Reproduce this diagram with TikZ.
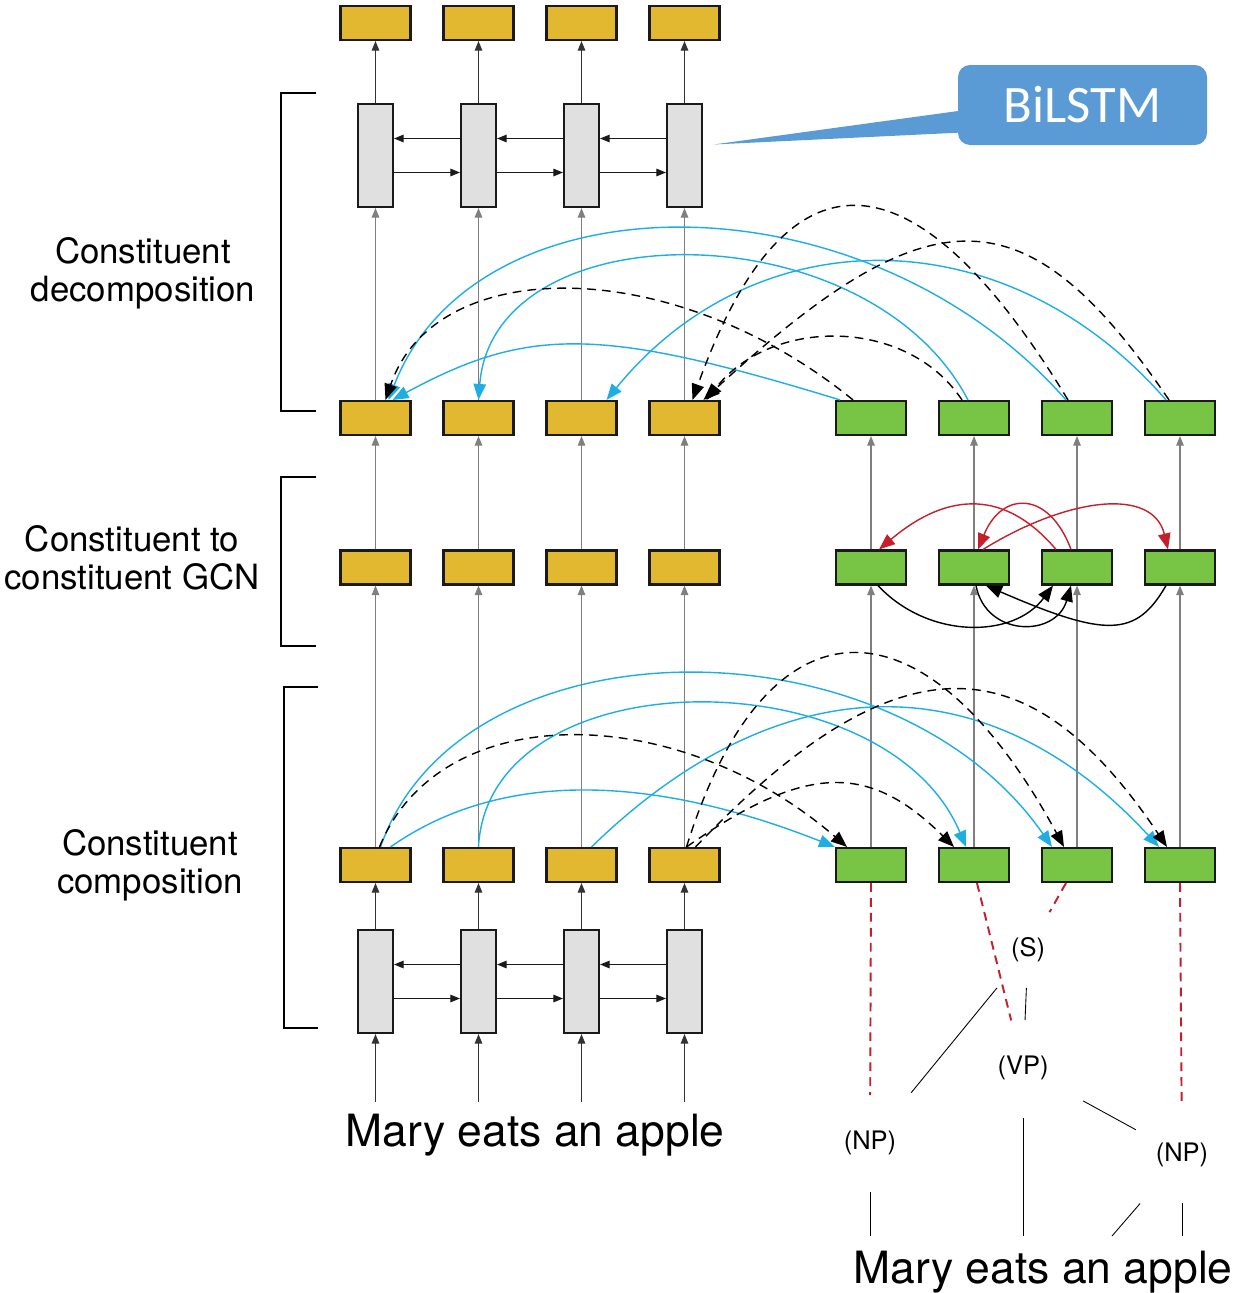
\documentclass[tikz,border=0pt]{standalone}
\usepackage{fontspec}
\setmainfont{TeX Gyre Heros}
\newfontfamily\calib{Carlito}
\usetikzlibrary{arrows.meta,positioning,calc}
\definecolor{ink}{HTML}{1A1A1A}
\definecolor{gold}{HTML}{E2B831}
\definecolor{leaf}{HTML}{78C445}
\definecolor{cellgr}{HTML}{E0E0E0}
\definecolor{sky}{HTML}{1EAEE4}
\definecolor{crim}{HTML}{C51F2B}
\definecolor{flow}{HTML}{7F7F7F}
\definecolor{callout}{HTML}{5B9BD5}
\tikzset{
  tok/.style={draw=ink,line width=1.2pt,minimum width=1.4cm,minimum height=0.68cm,inner sep=0pt},
  lstm/.style={draw=ink,line width=1.2pt,fill=cellgr,minimum width=0.7cm,minimum height=2.06cm,inner sep=0pt},
  upgray/.style={-{Triangle[length=1.9mm,width=1.5mm]},flow,line width=0.6pt},
  updark/.style={-{Triangle[length=1.9mm,width=1.5mm]},black!80,line width=0.6pt},
  rnn/.style={-{Triangle[length=1.9mm,width=1.5mm]},ink,line width=0.6pt},
  bl/.style={-{Triangle[length=3.2mm,width=2.5mm]},sky,line width=0.8pt},
  sp/.style={-{Triangle[length=3.2mm,width=2.5mm]},black,line width=0.8pt,dash pattern=on 5pt off 3.5pt},
  tre/.style={-{Triangle[length=3.2mm,width=2.5mm]},crim,line width=0.8pt},
  rise/.style={-{Triangle[length=3.2mm,width=2.5mm]},black,line width=0.8pt},
  treeln/.style={black,line width=0.5pt},
  link/.style={crim,line width=1.1pt,dash pattern=on 5pt off 3.5pt},
  brk/.style={black,line width=0.9pt},
  stage/.style={align=center,font=\fontsize{19.8}{21.5}\selectfont},
  sent/.style={font=\fontsize{25.3}{30}\selectfont,inner sep=0pt},
  cat/.style={font=\fontsize{14.5}{16}\selectfont,inner sep=0pt},
  bubble/.style={fill=callout,rounded corners=0.24cm,minimum width=4.98cm,minimum height=1.6cm,
                 text=white,font=\calib\fontsize{30}{34}\selectfont}
}
\newcommand{\branch}[5][treeln]{\draw[#1,shorten <=#4,shorten >=#5] #2 -- #3;}

\begin{document}
\begin{tikzpicture}
  \useasboundingbox (0,0) rectangle (24.74,-25.86);

  % word columns
  \foreach \i/\x in {1/7.51,2/9.57,3/11.63,4/13.69}{
    \node[tok,fill=gold] (top\i) at (\x,-0.46) {};
    \node[lstm] (lt\i) at (\x,-3.11) {};
    \node[tok,fill=gold] (dy\i) at (\x,-8.36) {};
    \node[tok,fill=gold] (gy\i) at (\x,-11.35) {};
    \node[tok,fill=gold] (cy\i) at (\x,-17.30) {};
    \node[lstm] (lb\i) at (\x,-19.63) {};
    \coordinate (in\i) at (\x,-22.04);}
  % constituent columns
  \foreach \i/\x in {1/17.42,2/19.48,3/21.54,4/23.60}{
    \node[tok,fill=leaf] (dg\i) at (\x,-8.36) {};
    \node[tok,fill=leaf] (gg\i) at (\x,-11.35) {};
    \node[tok,fill=leaf] (cg\i) at (\x,-17.30) {};}

  \foreach \i in {1,...,4}{
    \draw[updark] (lt\i) -- (top\i);
    \draw[upgray] (dy\i) -- (lt\i);
    \draw[upgray] (gy\i) -- (dy\i);
    \draw[upgray] (cy\i) -- (gy\i);
    \draw[updark] (lb\i) -- (cy\i);
    \draw[updark] (in\i) -- (lb\i);
    \draw[upgray] (gg\i) -- (dg\i);
    \draw[upgray] (cg\i) -- (gg\i);}
  \foreach \i/\j in {1/2,2/3,3/4}{
    \draw[rnn] ([yshift=-0.34cm]lt\i.east) -- ([yshift=-0.34cm]lt\j.west);
    \draw[rnn] ([yshift=0.34cm]lt\j.west) -- ([yshift=0.34cm]lt\i.east);
    \draw[rnn] ([yshift=-0.34cm]lb\i.east) -- ([yshift=-0.34cm]lb\j.west);
    \draw[rnn] ([yshift=0.34cm]lb\j.west) -- ([yshift=0.34cm]lb\i.east);}

  % stages
  \draw[brk] (6.32,-1.86) -- (5.62,-1.86) -- (5.62,-8.22) -- (6.32,-8.22);
  \draw[brk] (6.32,-9.54) -- (5.62,-9.54) -- (5.62,-12.92) -- (6.32,-12.92);
  \draw[brk] (6.36,-13.74) -- (5.68,-13.74) -- (5.68,-20.56) -- (6.36,-20.56);
  \node[stage] (decomp) at (2.86,-5.46) {Constituent\\decomposition};
  \node[stage] (c2c) at (2.64,-11.16) {Constituent to\\constituent GCN};
  \node[stage] (comp) at (3.0,-17.30) {Constituent\\composition};

  % callout
  \node[bubble] (bil) at (21.65,-2.10) {BiLSTM};
  \coordinate (tip) at ([xshift=0.21cm,yshift=0.22cm]lt4.east);
  \fill[callout] ([xshift=0.3cm,yshift=-0.08cm]bil.west) -- (tip)
    -- ([xshift=0.3cm,yshift=-0.54cm]bil.west) -- cycle;

  % decomposition: constituents back to words
  \draw[bl] ([xshift=-0.62cm]dg1.north) .. controls +(-4.8,1.47) and +(2.72,1.47) .. ([xshift=0.34cm]dy1.north);
  \draw[bl] ([xshift=-0.12cm]dg2.north) .. controls +(-2.0,3.82) and +(0.3,3.82) .. (dy2.north);
  \draw[bl] ([xshift=-0.22cm]dg3.north) .. controls +(-4.0,4.56) and +(1.76,4.56) .. ([xshift=0.26cm]dy1.north);
  \draw[bl] ([xshift=-0.28cm]dg4.north) .. controls +(-3.2,3.68) and +(3.0,3.68) .. ([xshift=0.5cm]dy3.north);
  \draw[sp] ([xshift=-0.36cm]dg1.north) .. controls +(-3.6,2.93) and +(1.0,2.93) .. ([xshift=0.2cm]dy1.north);
  \draw[sp] ([xshift=-0.24cm]dg2.north) .. controls +(-1.1,1.66) and +(1.3,1.66) .. ([xshift=0.44cm]dy4.north);
  \draw[sp] ([xshift=-0.18cm]dg3.north) .. controls +(-3.12,5.14) and +(1.84,5.14) .. ([xshift=0.16cm]dy4.north);
  \draw[sp] ([xshift=-0.22cm]dg4.north) .. controls +(-2.86,4.2) and +(4.56,4.2) .. ([xshift=0.38cm]dy4.north);

  % constituent to constituent
  \draw[tre] ([xshift=-0.42cm]gg3.north) .. controls +(-1.0,1.18) and +(1.4,1.18) .. ([xshift=0.16cm]gg1.north);
  \draw[tre] ([xshift=-0.12cm]gg3.north) .. controls +(-0.44,1.18) and +(0.48,1.18) .. ([xshift=0.08cm]gg2.north);
  \draw[tre] ([xshift=0.18cm]gg2.north) .. controls +(1.7,1.05) and +(-0.3,1.25) .. ([xshift=-0.24cm]gg4.north);
  \draw[rise] ([xshift=0.14cm]gg1.south) .. controls +(1.0,-1.07) and +(-0.8,-1.07) .. ([xshift=-0.48cm]gg3.south);
  \draw[rise] ([xshift=0.04cm]gg2.south) .. controls +(0.2,-1.04) and +(-0.3,-1.04) .. ([xshift=-0.12cm]gg3.south);
  \draw[rise] ([xshift=-0.28cm]gg4.south) .. controls +(-0.6,-1.04) and +(2.4,-1.04) .. ([xshift=0.24cm]gg2.south);

  % composition: words to constituents
  \draw[bl] ([xshift=0.3cm]cy1.north) .. controls +(2.14,1.5) and +(-3.8,1.5) .. (cg1.north west);
  \draw[bl] ([xshift=0.1cm]cy1.north) .. controls +(1.6,4.62) and +(-3.2,4.62) .. ([xshift=-0.5cm]cg3.north);
  \draw[bl] (cy2.north) .. controls +(0.2,3.82) and +(-1.6,3.82) .. ([xshift=-0.16cm]cg2.north);
  \draw[bl] ([xshift=0.2cm]cy3.north) .. controls +(3.8,3.7) and +(-3.4,3.7) .. ([xshift=-0.42cm]cg4.north);
  \draw[sp] ([xshift=0.08cm]cy1.north) .. controls +(1.2,2.96) and +(-3.44,2.96) .. ([xshift=-0.48cm]cg1.north);
  \draw[sp] ([xshift=0.04cm]cy4.north) .. controls +(2.4,1.68) and +(-1.7,1.68) .. ([xshift=-0.4cm]cg2.north);
  \draw[sp] ([xshift=0.04cm]cy4.north) .. controls +(1.6,5.14) and +(-2.78,5.14) .. ([xshift=-0.26cm]cg3.north);
  \draw[sp] ([xshift=0.22cm]cy4.north) .. controls +(4.0,4.18) and +(-2.8,4.18) .. ([xshift=-0.26cm]cg4.north);

  % sentences
  \node[sent,anchor=base] (sentL) at (10.70,-22.92) {Mary eats an apple};
  \node[sent,anchor=base] (sentR) at (20.86,-25.66) {Mary eats an apple};

  % parse tree
  \node[cat] (s) at (20.56,-19.0) {(S)};
  \node[cat] (vp) at (20.46,-21.36) {(VP)};
  \node[cat] (np1) at (17.40,-22.86) {(NP)};
  \node[cat] (np2) at (23.64,-23.10) {(NP)};
  \coordinate (w1) at (17.40,-24.72);
  \coordinate (w2) at (20.46,-24.72);
  \coordinate (w3) at (22.24,-24.72);
  \coordinate (w4) at (23.64,-24.72);
  \branch{(s.center)}{(vp.center)}{0.76cm}{0.96cm}
  \branch{(s.center)}{(np1.center)}{0.98cm}{1.30cm}
  \branch{(vp.center)}{(np2.center)}{1.37cm}{1.05cm}
  \branch{(vp.center)}{(w2)}{1.0cm}{0pt}
  \branch{(np1.center)}{(w1)}{0.98cm}{0pt}
  \branch{(np2.center)}{(w3)}{1.28cm}{0pt}
  \branch{(np2.center)}{(w4)}{0.96cm}{0pt}
  \branch[link]{(cg1.south)}{(np1.center)}{0pt}{0.96cm}
  \branch[link]{([xshift=0.06cm]cg2.south)}{(vp.center)}{0pt}{0.98cm}
  \branch[link]{([xshift=-0.22cm]cg3.south)}{(s.center)}{0pt}{0.87cm}
  \branch[link]{(cg4.south)}{(np2.center)}{0pt}{0.98cm}
\end{tikzpicture}
\end{document}
